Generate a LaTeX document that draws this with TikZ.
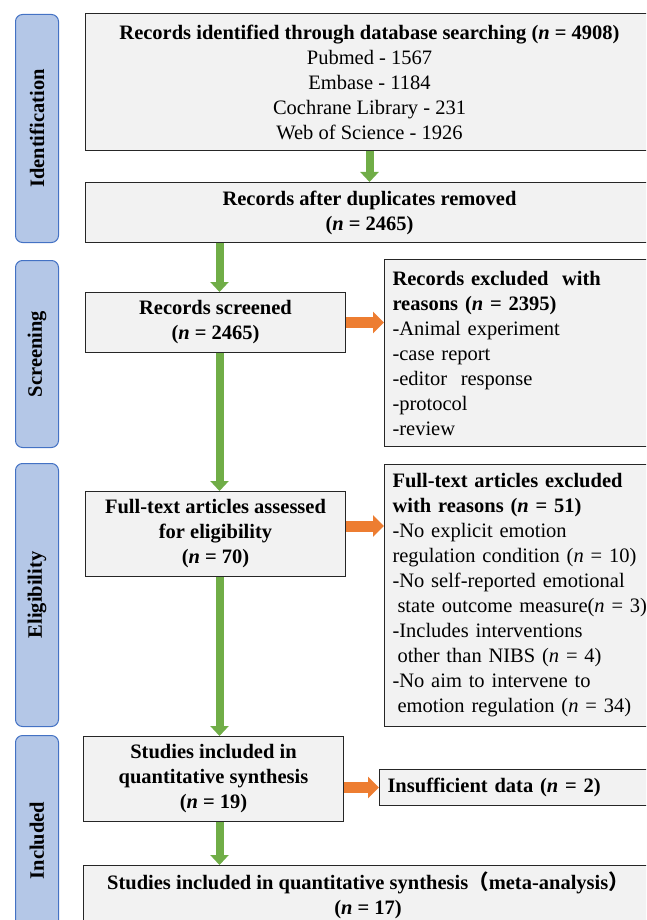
\documentclass[tikz,border=0pt]{standalone}
\usepackage{fontspec}
\setmainfont{Liberation Serif}
\newfontfamily\cjk{Noto Sans CJK SC}
\usetikzlibrary{arrows.meta}
\definecolor{boxgray}{HTML}{F2F2F2}
\definecolor{tabfill}{HTML}{B4C7E7}
\definecolor{tabline}{HTML}{4472C4}
\definecolor{agreen}{HTML}{70AD47}
\definecolor{aorange}{HTML}{ED7D31}
\newcommand{\fs}{\fontsize{20.5}{25}\selectfont}
\newcommand{\nn}{\textit{n}}
\tikzset{
  box/.style={draw=black!85, fill=boxgray, line width=1pt, inner sep=0pt, anchor=north west, font=\fs, align=center},
  exbox/.style={draw=black!85, fill=boxgray, line width=1pt, inner xsep=8pt, inner ysep=0pt, anchor=north west, font=\fs, align=left, text width=320pt},
  tab/.style={draw=tabline, fill=tabfill, rounded corners=7pt, line width=1pt, anchor=north west, minimum width=43pt, inner sep=0pt},
  tablabel/.style={rotate=90, font=\fs\bfseries},
  garrow/.style={draw=agreen, line width=8pt, -{Triangle[width=18pt,length=10pt]}},
  oarrow/.style={draw=aorange, line width=11pt, -{Triangle[width=21pt,length=11pt]}}
}
\begin{document}
\begin{tikzpicture}[x=1pt,y=-1pt]
\useasboundingbox (0,0) rectangle (646,920);
\clip (0,0) rectangle (646,920);
% side tabs
\node[tab, minimum height=228pt] (t1) at (15,14) {};
\node[tablabel] at (t1.center) {Identification};
\node[tab, minimum height=187pt] (t2) at (15,260) {};
\node[tablabel] at (t2.center) {Screening};
\node[tab, minimum height=263pt] (t3) at (15,463) {};
\node[tablabel] at (t3.center) {Eligibility};
\node[tab, minimum height=210pt] (t4) at (15,735) {};
\node[tablabel] at (t4.center) {Included};
% main boxes
\node[box, minimum width=568pt, minimum height=137pt] (b1) at (85,13)
  {\textbf{Records identified through database searching (\nn{} = 4908)}\\Pubmed - 1567\\Embase - 1184\\Cochrane Library - 231\\Web of Science - 1926};
\node[box, minimum width=568pt, minimum height=60pt] (b2) at (85,182)
  {\textbf{Records after duplicates removed}\\\textbf{(\nn{} = 2465)}};
\node[box, minimum width=260pt, minimum height=60pt] (b3) at (85,292)
  {\textbf{Records screened}\\\textbf{(\nn{} = 2465)}};
\node[box, minimum width=260pt, minimum height=85pt] (b4) at (85,491)
  {\textbf{Full-text articles assessed}\\\textbf{for eligibility}\\\textbf{(\nn{} = 70)}};
\node[box, minimum width=260pt, minimum height=85pt] (b5) at (83,736)
  {\textbf{Studies included in}\\\textbf{quantitative synthesis}\\\textbf{(\nn{} = 19)}};
\node[box, minimum width=580pt, minimum height=70pt] (b6) at (83,865) {};
\node[font=\fs, align=center, anchor=north] (b6t) at (368,868)
  {\textbf{Studies included in quantitative synthesis{\cjk （}meta-analysis{\cjk ）}}\\\textbf{(\nn{} = 17)}};
% exclusion boxes
\node[exbox, minimum height=187pt] (e1) at (384,259)
  {\textbf{Records excluded\ \ with}\\\textbf{reasons (\nn{} = 2395)}\\-Animal experiment\\-case report\\-editor\ \ response\\-protocol\\-review};
\node[exbox, minimum height=262pt] (e2) at (384,464)
  {\textbf{Full-text articles excluded}\\\textbf{with reasons (\nn{} = 51)}\\-No explicit emotion\\regulation condition (\nn{} = 10)\\-No self-reported emotional\\\hspace*{5pt}state outcome measure(\nn{} = 3)\\-Includes interventions\\\hspace*{5pt}other than NIBS (\nn{} = 4)\\-No aim to intervene to\\\hspace*{5pt}emotion regulation (\nn{} = 34)};
\node[exbox, minimum height=36pt] (e3) at (379,769)
  {\textbf{Insufficient data (\nn{} = 2)}};
% green arrows
\draw[garrow] (b1.south) -- (b2.north);
\draw[garrow] ([xshift=4pt]b3.north |- b2.south) -- ([xshift=4pt]b3.north);
\draw[garrow] ([xshift=4pt]b3.south) -- ([xshift=4pt]b4.north);
\draw[garrow] ([xshift=4pt]b4.south) -- ([xshift=6pt]b5.north);
\draw[garrow] ([xshift=6pt]b5.south) -- ([xshift=6pt]b5.south |- b6.north);
% orange arrows
\draw[oarrow] (b3.east) -- (b3.east -| e1.west);
\draw[oarrow] ([yshift=8pt]b4.east) -- ([yshift=8pt]b4.east -| e2.west);
\draw[oarrow] (b5.east |- e3.west) -- (e3.west);
\end{tikzpicture}
\end{document}
